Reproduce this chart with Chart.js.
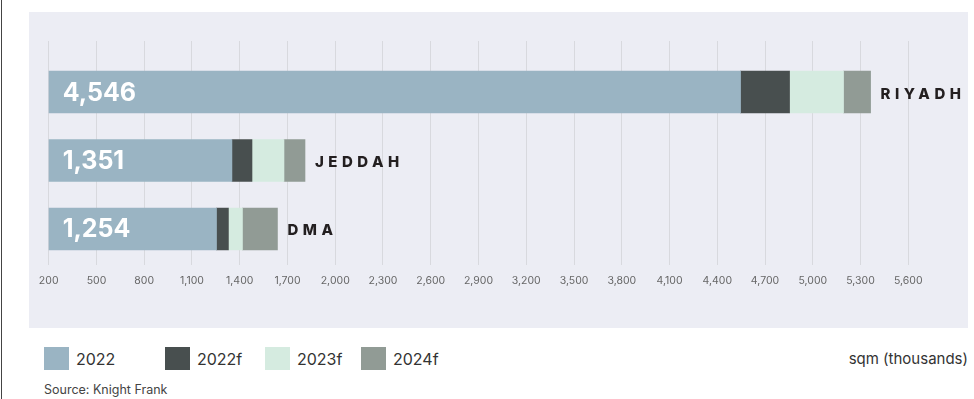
<!DOCTYPE html>
<html>
<head>
<meta charset="utf-8">
<script src="https://cdn.jsdelivr.net/npm/chart.js@4"></script>
<style>
  body { margin: 0; width: 974px; height: 399px; background: #fff; position: relative; overflow: hidden; font-family: Inter, sans-serif; }
  #edge { position: absolute; left: 1px; top: 0; width: 1px; height: 399px; background: #444; }
  #panel { position: absolute; left: 29px; top: 12px; width: 939px; height: 316px; background: #ecedf4; }
  #wrap { position: absolute; left: 0; top: 0; width: 974px; height: 300px; }
  .item { position: absolute; top: 347px; display: flex; align-items: center; white-space: nowrap; font-size: 16px; color: #333; }
  .box { width: 25px; height: 23px; margin-right: 7px; }
  #unit { position: absolute; right: 6px; top: 349px; font-size: 15px; color: #333; }
  #source { position: absolute; left: 44px; top: 382px; font-size: 12.5px; color: #444; }
</style>
</head>
<body>
<div id="edge"></div>
<div id="panel"></div>
<div id="wrap"><canvas id="myChart"></canvas></div>
<div id="legend"></div>
<div id="unit">sqm (thousands)</div>
<div id="source">Source: Knight Frank</div>
<script>
// data (sqm thousands)
const cities = ['RIYADH', 'JEDDAH', 'DMA'];
const seriesNames = ['2022', '2022f', '2023f', '2024f'];
const s2022 = [4546, 1351, 1254];
const s2022f = [308, 126, 75];
const s2023f = [339, 201, 88];
const s2024f = [170, 132, 220];
const xTicks = [200, 500, 800, 1100, 1400, 1700, 2000, 2300, 2600, 2900, 3200, 3500, 3800, 4100, 4400, 4700, 5000, 5300, 5600];

const colors = ['#9ab4c3', '#484f4f', '#d5ebe0', '#919b95'];
const legendLeft = [44, 165, 265, 361];

const ctx = document.getElementById('myChart').getContext('2d');

const toPoints = arr => arr.map((v, i) => ({ x: v, y: i }));

const barLabels = {
    id: 'barLabels',
    afterDatasetsDraw(chart) {
        const c = chart.ctx;
        const first = chart.getDatasetMeta(0);
        const last = chart.getDatasetMeta(chart.data.datasets.length - 1);
        c.save();
        c.textBaseline = 'middle';
        c.textAlign = 'left';
        cities.forEach((city, i) => {
            const y = first.data[i].y;
            c.fillStyle = '#fff';
            c.font = 'bold 25px Inter';
            c.fillText(s2022[i].toLocaleString('en-US'), chart.chartArea.left + 14, y + 1);
            c.fillStyle = '#231f20';
            c.font = '800 15px Inter';
            c.letterSpacing = '4.5px';
            c.fillText(city, last.data[i].x + 10, y + 2);
            c.letterSpacing = '0px';
        });
        c.restore();
    }
};

var myChart = new Chart(ctx, {
    type: 'bar',
    data: {
        datasets: [s2022, s2022f, s2023f, s2024f].map((arr, k) => ({
            label: seriesNames[k],
            data: toPoints(arr),
            backgroundColor: colors[k],
            borderWidth: 0,
            barThickness: 42
        }))
    },
    options: {
        indexAxis: 'y',
        responsive: true,
        maintainAspectRatio: false,
        animation: false,
        layout: { padding: { left: 48.7, right: 65.7, top: 41, bottom: 12 } },
        plugins: {
            legend: { display: false },
            tooltip: { enabled: false }
        },
        scales: {
            x: {
                type: 'linear',
                stacked: true,
                min: 200,
                max: 5600,
                afterBuildTicks: s => { s.ticks = xTicks.map(v => ({ value: v })); },
                afterFit: s => { s.height = 23; },
                grid: { color: '#d8d9de', drawTicks: false },
                border: { display: false },
                ticks: {
                    padding: 10,
                    color: '#666',
                    font: { family: 'Inter', size: 10.5 },
                    maxRotation: 0,
                    autoSkip: false,
                    callback: v => v.toLocaleString('en-US')
                }
            },
            y: {
                type: 'linear',
                stacked: true,
                reverse: true,
                offset: false,
                min: -0.745,
                max: 2.526,
                display: false
            }
        }
    },
    plugins: [barLabels]
});

// legend
const legend = document.getElementById('legend');
seriesNames.forEach((name, k) => {
    const item = document.createElement('div');
    item.className = 'item';
    item.style.left = legendLeft[k] + 'px';
    item.innerHTML = '<span class="box" style="background:' + colors[k] + '"></span>' + name;
    legend.appendChild(item);
});
</script>
</body>
</html>
